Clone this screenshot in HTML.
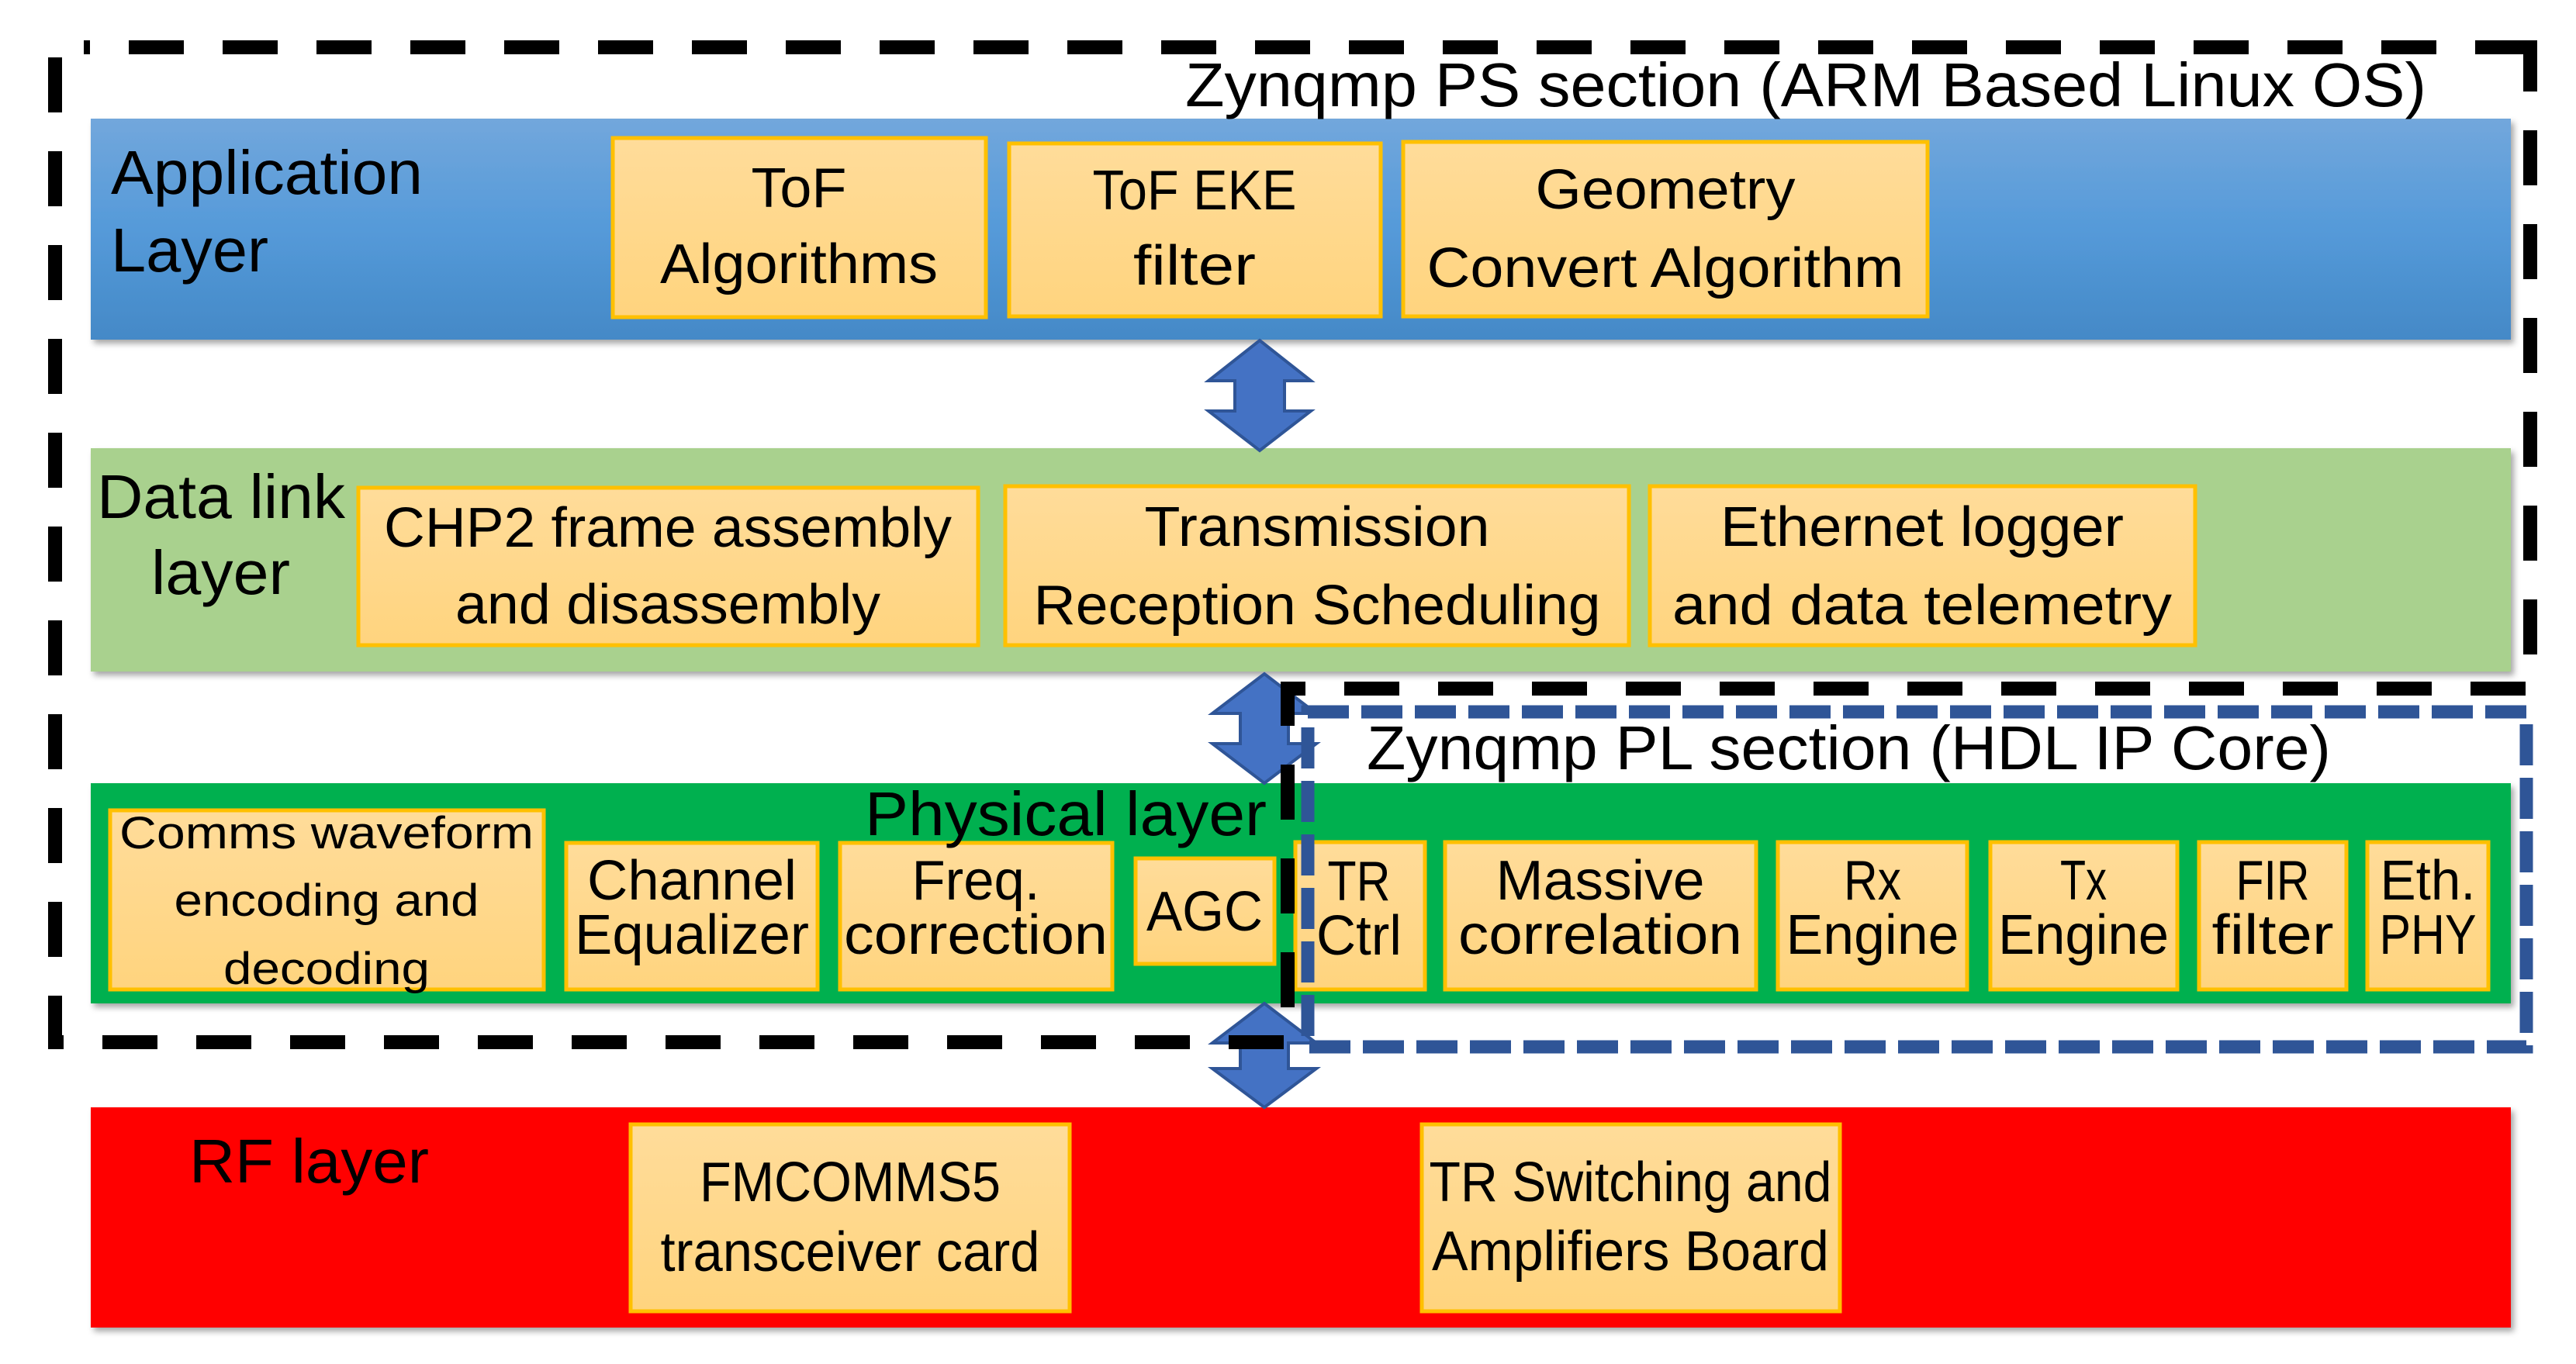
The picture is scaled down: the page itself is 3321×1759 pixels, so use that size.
<!DOCTYPE html>
<html><head><meta charset="utf-8">
<style>
html,body{margin:0;padding:0;background:#fff;}
svg{display:block;}
text{font-family:"Liberation Sans",sans-serif;fill:#000;}
.b{font-size:72px;text-anchor:middle;}
.h{font-size:80px;}
</style></head><body>
<svg width="3321" height="1759" viewBox="0 0 3321 1759" xmlns="http://www.w3.org/2000/svg">
<defs>
<linearGradient id="blue" x1="0" y1="0" x2="0" y2="1">
<stop offset="0" stop-color="#72A7DC"/><stop offset="0.5" stop-color="#559AD9"/><stop offset="1" stop-color="#4489C7"/>
</linearGradient>
<linearGradient id="org" x1="0" y1="0" x2="0" y2="1">
<stop offset="0" stop-color="#FFDC9A"/><stop offset="1" stop-color="#FFD47E"/>
</linearGradient>
<filter id="sh" x="-5%" y="-20%" width="110%" height="140%">
<feDropShadow dx="4" dy="5" stdDeviation="4" flood-color="#000" flood-opacity="0.35"/>
</filter>
</defs>

<rect x="117" y="153" width="3120" height="285" fill="url(#blue)" filter="url(#sh)"/>
<rect x="117" y="578" width="3120" height="288" fill="#A9D18E" filter="url(#sh)"/>
<rect x="117" y="1010" width="3120" height="284" fill="#00B050" filter="url(#sh)"/>
<rect x="117" y="1428" width="3120" height="284" fill="#FF0000" filter="url(#sh)"/>

<g fill="url(#org)" stroke="#FFC000" stroke-width="5">
<rect x="790" y="178" width="481" height="231"/>
<rect x="1301" y="185" width="479" height="223"/>
<rect x="1809" y="183" width="676" height="225"/>
<rect x="462" y="629" width="799" height="203"/>
<rect x="1296" y="627" width="804" height="205"/>
<rect x="2127" y="627" width="703" height="205"/>
<rect x="142" y="1045" width="559" height="231"/>
<rect x="730" y="1087" width="324" height="189"/>
<rect x="1083" y="1087" width="351" height="189"/>
<rect x="1464" y="1107" width="179" height="136"/>
<rect x="1670" y="1086" width="167" height="190"/>
<rect x="1863" y="1086" width="401" height="190"/>
<rect x="2292" y="1086" width="244" height="190"/>
<rect x="2566" y="1086" width="241" height="190"/>
<rect x="2835" y="1086" width="190" height="190"/>
<rect x="3052" y="1086" width="156" height="190"/>
<rect x="813" y="1450" width="566" height="241"/>
<rect x="1833" y="1450" width="539" height="241"/>
</g>

<g fill="#4472C4" stroke="#2F5597" stroke-width="4" stroke-linejoin="miter">
<polygon points="1624,439 1690,491 1656,491 1656,530 1690,530 1624,581 1558,530 1592,530 1592,491 1558,491"/>
<polygon points="1630,869 1697,920 1661,920 1661,959 1697,959 1630,1010 1563,959 1599,959 1599,920 1563,920"/>
<polygon points="1630,1294 1697,1345 1661,1345 1661,1378 1697,1378 1630,1428 1563,1378 1599,1378 1599,1345 1563,1345"/>
</g>

<path d="M71,74 V1344 H1660 V888 H3262 V52 M3262,61 H108" fill="none" stroke="#000" stroke-width="18" stroke-dasharray="71 50"/>
<rect x="1686" y="918" width="1571" height="432" fill="none" stroke="#2F5597" stroke-width="17" stroke-dasharray="53 16"/>

<text class="h" x="1528" y="137" textLength="1600" lengthAdjust="spacingAndGlyphs">Zynqmp PS section (ARM Based Linux OS)</text>
<text class="h" x="143" y="250" textLength="402" lengthAdjust="spacingAndGlyphs">Application</text>
<text class="h" x="143" y="350" textLength="203" lengthAdjust="spacingAndGlyphs">Layer</text>
<text class="h" x="125" y="668" textLength="320" lengthAdjust="spacingAndGlyphs">Data link</text>
<text class="h" x="195" y="766" textLength="179" lengthAdjust="spacingAndGlyphs">layer</text>
<text class="h" x="1115" y="1077" textLength="518" lengthAdjust="spacingAndGlyphs">Physical layer</text>
<text class="h" x="1762" y="992" textLength="1243" lengthAdjust="spacingAndGlyphs">Zynqmp PL section (HDL IP Core)</text>
<text class="h" x="244" y="1525" textLength="309" lengthAdjust="spacingAndGlyphs">RF layer</text>

<g class="b">
<text class="b" x="1030" y="267" textLength="123" lengthAdjust="spacingAndGlyphs">ToF</text>
<text class="b" x="1030" y="365" textLength="358" lengthAdjust="spacingAndGlyphs">Algorithms</text>
<text class="b" x="1540" y="270" textLength="263" lengthAdjust="spacingAndGlyphs">ToF EKE</text>
<text class="b" x="1540" y="367" textLength="158" lengthAdjust="spacingAndGlyphs">filter</text>
<text class="b" x="2147" y="269" textLength="335" lengthAdjust="spacingAndGlyphs">Geometry</text>
<text class="b" x="2147" y="370" textLength="615" lengthAdjust="spacingAndGlyphs">Convert Algorithm</text>
<text class="b" x="861" y="705" textLength="732" lengthAdjust="spacingAndGlyphs">CHP2 frame assembly</text>
<text class="b" x="861" y="804" textLength="548" lengthAdjust="spacingAndGlyphs">and disassembly</text>
<text class="b" x="1698" y="704" textLength="445" lengthAdjust="spacingAndGlyphs">Transmission</text>
<text class="b" x="1698" y="805" textLength="731" lengthAdjust="spacingAndGlyphs">Reception Scheduling</text>
<text class="b" x="2478" y="704" textLength="520" lengthAdjust="spacingAndGlyphs">Ethernet logger</text>
<text class="b" x="2478" y="805" textLength="644" lengthAdjust="spacingAndGlyphs">and data telemetry</text>

<text class="b" x="421" y="1094" style="font-size:58px" textLength="534" lengthAdjust="spacingAndGlyphs">Comms waveform</text>
<text class="b" x="421" y="1181" style="font-size:58px" textLength="393" lengthAdjust="spacingAndGlyphs">encoding and</text>
<text class="b" x="421" y="1269" style="font-size:58px" textLength="266" lengthAdjust="spacingAndGlyphs">decoding</text>
<text class="b" x="892" y="1160" textLength="270" lengthAdjust="spacingAndGlyphs">Channel</text>
<text class="b" x="892" y="1230" textLength="302" lengthAdjust="spacingAndGlyphs">Equalizer</text>
<text class="b" x="1258" y="1160" textLength="165" lengthAdjust="spacingAndGlyphs">Freq.</text>
<text class="b" x="1258" y="1230" textLength="340" lengthAdjust="spacingAndGlyphs">correction</text>
<text class="b" x="1553" y="1200" textLength="150" lengthAdjust="spacingAndGlyphs">AGC</text>
<text class="b" x="1752" y="1161" textLength="81" lengthAdjust="spacingAndGlyphs">TR</text>
<text class="b" x="1752" y="1231" textLength="110" lengthAdjust="spacingAndGlyphs">Ctrl</text>
<text class="b" x="2063" y="1160" textLength="269" lengthAdjust="spacingAndGlyphs">Massive</text>
<text class="b" x="2063" y="1230" textLength="366" lengthAdjust="spacingAndGlyphs">correlation</text>
<text class="b" x="2414" y="1160" textLength="74" lengthAdjust="spacingAndGlyphs">Rx</text>
<text class="b" x="2414" y="1230" textLength="223" lengthAdjust="spacingAndGlyphs">Engine</text>
<text class="b" x="2686" y="1160" textLength="60" lengthAdjust="spacingAndGlyphs">Tx</text>
<text class="b" x="2686" y="1230" textLength="220" lengthAdjust="spacingAndGlyphs">Engine</text>
<text class="b" x="2930" y="1160" textLength="95" lengthAdjust="spacingAndGlyphs">FIR</text>
<text class="b" x="2930" y="1230" textLength="157" lengthAdjust="spacingAndGlyphs">filter</text>
<text class="b" x="3130" y="1160" textLength="123" lengthAdjust="spacingAndGlyphs">Eth.</text>
<text class="b" x="3130" y="1230" textLength="125" lengthAdjust="spacingAndGlyphs">PHY</text>

<text class="b" x="1096" y="1549" textLength="388" lengthAdjust="spacingAndGlyphs">FMCOMMS5</text>
<text class="b" x="1096" y="1639" textLength="489" lengthAdjust="spacingAndGlyphs">transceiver card</text>
<text class="b" x="2102" y="1549" textLength="519" lengthAdjust="spacingAndGlyphs">TR Switching and</text>
<text class="b" x="2102" y="1638" textLength="512" lengthAdjust="spacingAndGlyphs">Amplifiers Board</text>
</g>
</svg>
</body></html>
